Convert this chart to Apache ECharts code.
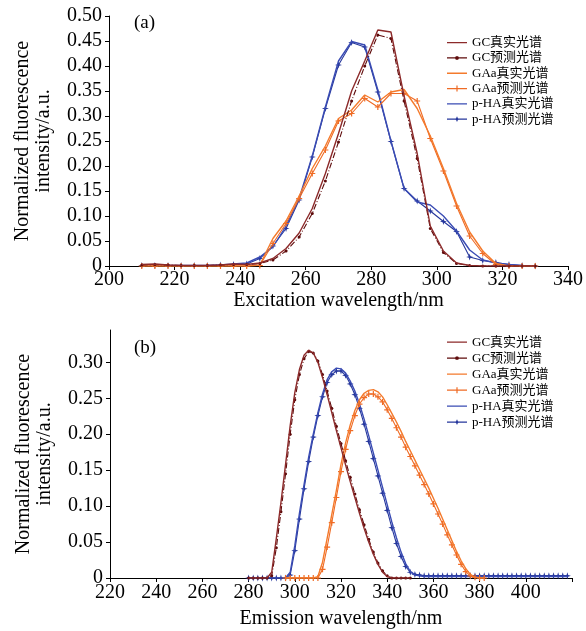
<!DOCTYPE html>
<html>
<head>
<meta charset="utf-8">
<script src="https://cdn.jsdelivr.net/npm/echarts@6/dist/echarts.min.js"></script>
<style>
  html, body { margin: 0; padding: 0; background: #ffffff; }
  #chart { width: 586px; height: 631px; }
</style>
</head>
<body>
<div id="chart"></div>
<script>
// ---- (a) excitation spectra, sampled every 4 nm ----
const exWave = [210,214,218,222,226,230,234,238,242,246,250,254,258,262,266,270,274,278,282,286,290,294,298,302,306,310,314,318,322,326,330];
const exGcTrue   = [0.003,0.004,0.002,0.001,0.001,0.001,0.002,0.004,0.003,0.006,0.015,0.035,0.066,0.115,0.185,0.265,0.350,0.410,0.472,0.468,0.340,0.225,0.080,0.030,0.006,0.001,0,0,0,0,0];
const exGcPred   = [0.002,0.003,0.002,0.001,0.001,0.001,0.002,0.003,0.003,0.005,0.012,0.030,0.058,0.105,0.170,0.248,0.330,0.400,0.462,0.455,0.330,0.215,0.075,0.027,0.005,0.001,0,0,0,0,0];
const exGaaTrue  = [0,0,0,0,0,0,0,0,0,0.002,0.055,0.090,0.140,0.195,0.240,0.295,0.312,0.342,0.328,0.348,0.353,0.315,0.260,0.195,0.125,0.068,0.030,0.005,0,0,0];
const exGaaPred  = [0,0,0,0,0,0,0,0,0,0.001,0.045,0.085,0.135,0.185,0.232,0.290,0.305,0.335,0.318,0.345,0.345,0.330,0.255,0.190,0.120,0.060,0.025,0.003,0,0,0];
const exPhaTrue  = [0.002,0.002,0.001,0.001,0.001,0.001,0.002,0.004,0.006,0.018,0.038,0.080,0.135,0.220,0.318,0.410,0.449,0.442,0.352,0.250,0.155,0.128,0.122,0.100,0.070,0.032,0.012,0.006,0.003,0.001,0];
const exPhaPred  = [0.001,0.001,0.001,0.001,0.001,0.001,0.002,0.003,0.004,0.015,0.040,0.075,0.132,0.218,0.315,0.402,0.447,0.438,0.348,0.249,0.155,0.130,0.110,0.089,0.069,0.018,0.011,0.007,0.003,0.001,0];

// ---- (b) emission spectra, sampled every 2 nm (null = not measured) ----
const emWave = [280,282,284,286,288,290,292,294,296,298,300,302,304,306,308,310,312,314,316,318,320,322,324,326,328,330,332,334,336,338,340,342,344,346,348,350,352,354,356,358,360,362,364,366,368,370,372,374,376,378,380,382,384,386,388,390,392,394,396,398,400,402,404,406,408,410,412,414,416,418];
const emGcTrue = [0,0,0,0,0,0.008,0.055,0.105,0.158,0.212,0.258,0.290,0.310,0.317,0.313,0.300,0.279,0.255,0.230,0.205,0.181,0.157,0.134,0.112,0.090,0.069,0.050,0.033,0.019,0.008,0.002,0,0,0,0,0,
  null,null,null,null,null,null,null,null,null,null,null,null,null,null,null,null,null,null,null,null,null,null,null,null,null,null,null,null,null,null,null,null,null,null];
const emGcPred = [0,0,0,0,0,0.003,0.042,0.092,0.145,0.200,0.248,0.283,0.305,0.315,0.313,0.302,0.283,0.260,0.236,0.211,0.187,0.163,0.140,0.117,0.095,0.074,0.054,0.036,0.021,0.010,0.003,0,0,0,0,0,
  null,null,null,null,null,null,null,null,null,null,null,null,null,null,null,null,null,null,null,null,null,null,null,null,null,null,null,null,null,null,null,null,null,null];
const emGaaTrue = [null,null,null,null,null,null,null,null,0,0,0,0,0,0,0,0.002,0.022,0.055,0.088,0.122,0.158,0.188,0.213,0.233,0.248,0.257,0.261,0.262,0.259,0.252,0.241,0.229,0.217,0.204,0.190,0.177,0.164,0.151,0.138,0.125,0.111,0.097,0.082,0.067,0.052,0.037,0.024,0.013,0.005,0.001,0,0,
  null,null,null,null,null,null,null,null,null,null,null,null,null,null,null,null,null,null];
const emGaaPred = [null,null,null,null,null,null,null,null,0,0,0,0,0,0,0,0,0.012,0.043,0.077,0.112,0.148,0.179,0.205,0.226,0.242,0.251,0.256,0.256,0.252,0.245,0.234,0.222,0.209,0.196,0.182,0.169,0.156,0.143,0.130,0.117,0.103,0.089,0.075,0.060,0.046,0.032,0.019,0.009,0.003,0.001,0,0,
  null,null,null,null,null,null,null,null,null,null,null,null,null,null,null,null,null,null];
const emPhaTrue = [0,0,0,0,0,0,0,0,0,0.008,0.045,0.090,0.130,0.168,0.200,0.230,0.256,0.276,0.287,0.292,0.291,0.285,0.274,0.260,0.242,0.221,0.198,0.174,0.150,0.126,0.102,0.078,0.056,0.036,0.020,0.009,0.004,0.003,
  0.002,0.002,0.002,0.002,0.002,0.002,0.002,0.002,0.002,0.002,0.002,0.002,0.002,0.002,0.002,0.002,0.002,0.002,0.002,0.002,0.002,0.002,0.002,0.002,0.002,0.002,0.002,0.002,0.002,0.002,0.002,0.002];
const emPhaPred = [0,0,0,0,0,0,0,0,0,0.004,0.038,0.082,0.124,0.162,0.196,0.226,0.252,0.272,0.283,0.288,0.288,0.282,0.270,0.255,0.236,0.214,0.190,0.166,0.142,0.118,0.094,0.070,0.048,0.030,0.016,0.008,0.005,0.004,
  0.003,0.003,0.003,0.003,0.003,0.003,0.003,0.003,0.003,0.003,0.003,0.003,0.003,0.003,0.003,0.003,0.003,0.003,0.003,0.003,0.003,0.003,0.003,0.003,0.003,0.003,0.003,0.003,0.003,0.003,0.003,0.003];

const names = ['GC真实光谱', 'GC预测光谱', 'GAa真实光谱', 'GAa预测光谱', 'p-HA真实光谱', 'p-HA预测光谱'];

const FONT = "'Liberation Serif', 'Times New Roman', 'Noto Sans CJK SC', serif";
const C_GC = '#8c2a2a', C_GC_P = '#5e0b0b';
const C_GA = '#f47a2c', C_GA_P = '#ef6b25';
const C_PH = '#3a4cb4', C_PH_P = '#26379c';
const PLUS = 'path://M4,0H6V4H10V6H6V10H4V6H0V4H4Z';
const STAR = 'path://M5,0L6.2,3.8L10,5L6.2,6.2L5,10L3.8,6.2L0,5L3.8,3.8Z';

// legend keys: a short line, with the series marker in the middle where there is one
const KEY_LINE = 'path://M0,2.3H20V3.7H0Z M0,0H0.01V6H0Z';
const KEY_DOT  = 'path://M0,2.4H20V3.6H0Z M9,1.3L11,1.3L11.7,2L11.7,4L11,4.7L9,4.7L8.3,4L8.3,2Z M0,0H0.01V6H0Z';
const KEY_PLUS = 'path://M0,2.4H20V3.6H0Z M9.4,0H10.6V6H9.4Z';
const KEY_STAR = 'path://M0,2.4H20V3.6H0Z M10,0.2L10.9,2.1L13,3L10.9,3.9L10,5.8L9.1,3.9L7,3L9.1,2.1Z M0,0H0.01V6H0Z';
const keys = [KEY_LINE, KEY_DOT, KEY_LINE, KEY_PLUS, KEY_LINE, KEY_STAR];

function pairs(xs, ys) { return xs.map((x, i) => [x, ys[i]]); }

function makeSeries(idx, wave, sets) {
  const styles = [
    { color: C_GC, width: 1.4, type: 'solid', symbol: 'none' },
    { color: C_GC_P, width: 1.1, type: [6, 2, 1, 2], symbol: 'circle', size: 3 },
    { color: C_GA, width: 1.4, type: 'solid', symbol: 'none' },
    { color: C_GA_P, width: 1.1, type: 'solid', symbol: PLUS, size: 6 },
    { color: C_PH, width: 1.4, type: 'solid', symbol: 'none' },
    { color: C_PH_P, width: 1.1, type: 'solid', symbol: STAR, size: 7 }
  ];
  return sets.map((ys, k) => {
    const s = styles[k];
    return {
      name: names[k], type: 'line', xAxisIndex: idx, yAxisIndex: idx,
      data: pairs(wave, ys),
      symbol: s.symbol, symbolSize: s.size || 4, showSymbol: s.symbol !== 'none',
      connectNulls: false,
      lineStyle: { color: s.color, width: s.width, type: s.type },
      itemStyle: { color: s.color },
      emphasis: { disabled: true },
      z: 10 - k
    };
  });
}

const axisLine = { show: true, lineStyle: { color: '#000', width: 1 } };
const axisTick = { show: true, inside: false, length: 4, lineStyle: { color: '#000' } };
const labelStyle = { color: '#000', fontFamily: FONT, fontSize: 20 };
const nameStyle = { color: '#000', fontFamily: FONT, fontSize: 20 };
const yFmt = v => (v === 0 ? '0' : v.toFixed(2));

function legendAt(top, gap) {
  return {
    orient: 'vertical', left: 447, top: top, padding: 0,
    itemWidth: 20, itemHeight: 6, itemGap: gap, symbolKeepAspect: true,
    textStyle: { color: '#000', fontFamily: FONT, fontSize: 13, lineHeight: 14.3 },
    data: names.map((n, k) => ({ name: n, icon: keys[k] })),
    selectedMode: false
  };
}

const chart = echarts.init(document.getElementById('chart'), null, { renderer: 'canvas' });
chart.setOption({
  animation: false,
  backgroundColor: '#ffffff',
  grid: [
    { left: 109, right: 18, top: 16, height: 250 },
    { left: 110, right: 14, top: 330, height: 248 }
  ],
  xAxis: [
    { gridIndex: 0, type: 'value', min: 200, max: 340, interval: 20,
      name: 'Excitation wavelength/nm', nameLocation: 'middle', nameGap: 25, nameTextStyle: nameStyle,
      axisLine, axisTick, axisLabel: Object.assign({ margin: 4 }, labelStyle), splitLine: { show: false } },
    { gridIndex: 1, type: 'value', min: 220, max: 420, interval: 20,
      name: 'Emission wavelength/nm', nameLocation: 'middle', nameGap: 31, nameTextStyle: nameStyle,
      axisLine, axisTick,
      axisLabel: Object.assign({ margin: 5, formatter: v => (v === 420 ? '' : String(v)) }, labelStyle),
      splitLine: { show: false } }
  ],
  yAxis: [
    { gridIndex: 0, type: 'value', min: 0, max: 0.5, interval: 0.05,
      name: 'Normalized fluorescence\nintensity/a.u.', nameLocation: 'middle', nameGap: 55, nameRotate: 90,
      nameTextStyle: Object.assign({ lineHeight: 21 }, nameStyle),
      axisLine, axisTick, axisLabel: Object.assign({ margin: 7, formatter: yFmt }, labelStyle), splitLine: { show: false } },
    { gridIndex: 1, type: 'value', min: 0, max: 0.345, interval: 0.05,
      name: 'Normalized fluorescence\nintensity/a.u.', nameLocation: 'middle', nameGap: 55, nameRotate: 90,
      nameTextStyle: Object.assign({ lineHeight: 21 }, nameStyle),
      axisLine, axisTick,
      axisLabel: Object.assign({ margin: 7, showMaxLabel: false, formatter: yFmt }, labelStyle),
      splitLine: { show: false } }
  ],
  legend: [legendAt(35.5, 1), legendAt(335, 1.7)],
  graphic: [
    { type: 'text', left: 134, top: 14, style: { text: '(a)', fill: '#000', font: '19px ' + FONT } },
    { type: 'text', left: 134, top: 339, style: { text: '(b)', fill: '#000', font: '19px ' + FONT } }
  ],
  series: [].concat(
    makeSeries(0, exWave, [exGcTrue, exGcPred, exGaaTrue, exGaaPred, exPhaTrue, exPhaPred]),
    makeSeries(1, emWave, [emGcTrue, emGcPred, emGaaTrue, emGaaPred, emPhaTrue, emPhaPred])
  )
});
</script>
</body>
</html>
